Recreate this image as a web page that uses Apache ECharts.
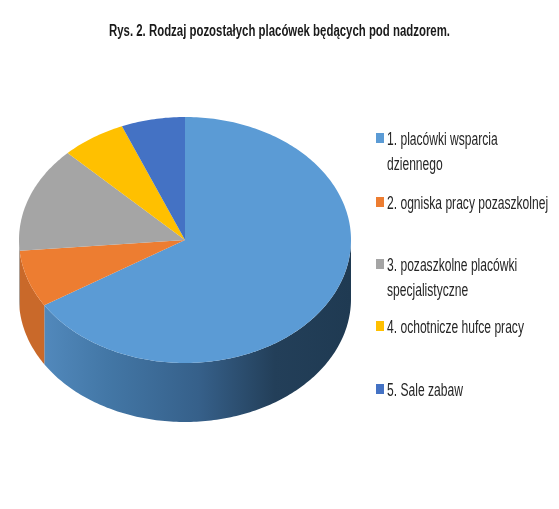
<!DOCTYPE html>
<html>
<head>
<meta charset="utf-8">
<style>html,body{margin:0;padding:0;background:#fff}#c{width:559px;height:509px}</style>
<script src="https://cdn.jsdelivr.net/npm/echarts@6/dist/echarts.min.js"></script>
</head>
<body>
<div id="c"></div>
<script>
const titleText = 'Rys. 2. Rodzaj pozostałych placówek będących pod nadzorem.';
const categories = ['1. placówki wsparcia\ndziennego', '2. ogniska pracy pozaszkolnej', '3. pozaszkolne placówki\nspecjalistyczne', '4. ochotnicze hufce pracy', '5. Sale zabaw'];
const values = [66.1, 7.5, 13.9, 6.3, 6.2];
const topColors = ['#5b9bd5', '#ed7d31', '#a5a5a5', '#ffc000', '#4472c4'];
const sideColors = [null, '#c9692a', '#8a8a8a', '#c99700', '#335a9c'];
const legendY = [139, 203, 265, 327, 390];

const FONT = '"Liberation Sans",sans-serif';
const CX = 185, CY = 240, RX = 166, RY = 123, DEPTH = 59;
const total = values.reduce((a, b) => a + b, 0);
const pt = (deg, dy) => [CX + RX * Math.sin(deg * Math.PI / 180), CY + dy - RY * Math.cos(deg * Math.PI / 180)];
const starts = [];
values.reduce((acc, v, i) => { starts[i] = acc; return acc + v; }, 0);
const span = i => [starts[i] / total * 360, (starts[i] + values[i]) / total * 360];

const sideGradient = {
  type: 'linear', global: true, x: 46, y: 0, x2: 351, y2: 0,
  colorStops: [
    { offset: 0, color: '#5188bb' },
    { offset: 0.2, color: '#4377a6' },
    { offset: 0.5, color: '#36608a' },
    { offset: 0.75, color: '#233f59' },
    { offset: 1, color: '#1f3a52' }
  ]
};

function renderSlice(params, api) {
  const i = api.value(0);
  const [a0, a1] = span(i);
  const top = [[CX, CY]];
  const n = Math.max(2, Math.ceil(a1 - a0));
  for (let k = 0; k <= n; k++) top.push(pt(a0 + (a1 - a0) * k / n, 0));
  const children = [];
  const s0 = Math.max(a0, 90), s1 = Math.min(a1, 270);
  if (s1 > s0) {
    const wall = [];
    const m = Math.max(2, Math.ceil(s1 - s0));
    for (let k = 0; k <= m; k++) wall.push(pt(s0 + (s1 - s0) * k / m, 0));
    for (let k = m; k >= 0; k--) wall.push(pt(s0 + (s1 - s0) * k / m, DEPTH));
    children.push({ type: 'polygon', shape: { points: wall }, style: { fill: i === 0 ? sideGradient : sideColors[i] } });
  }
  children.push({ type: 'polygon', shape: { points: top }, style: { fill: topColors[i] } });
  return { type: 'group', children };
}

const legendGraphics = [];
categories.forEach((c, i) => {
  legendGraphics.push({ type: 'rect', shape: { x: 376, y: legendY[i] - 6, width: 8, height: 10 }, style: { fill: topColors[i] } });
  legendGraphics.push({
    type: 'text', x: 387, y: legendY[i] - 11.5, scaleX: 0.69,
    style: { text: c, font: '17.5px ' + FONT, fill: '#262626', lineHeight: 25, textVerticalAlign: 'top' }
  });
});
legendGraphics.push({
  type: 'text', x: 279.5, y: 32, scaleX: 0.713,
  style: { text: titleText, font: 'bold 16px ' + FONT, fill: '#1a1a1a', textAlign: 'center', textVerticalAlign: 'middle' }
});

const chart = echarts.init(document.getElementById('c'), null, { renderer: 'canvas' });
chart.setOption({
  animation: false,
  backgroundColor: '#fff',
  series: [{
    type: 'custom',
    coordinateSystem: 'none',
    renderItem: renderSlice,
    data: values.map((v, i) => [i, v])
  }],
  graphic: legendGraphics
});
</script>
</body>
</html>
